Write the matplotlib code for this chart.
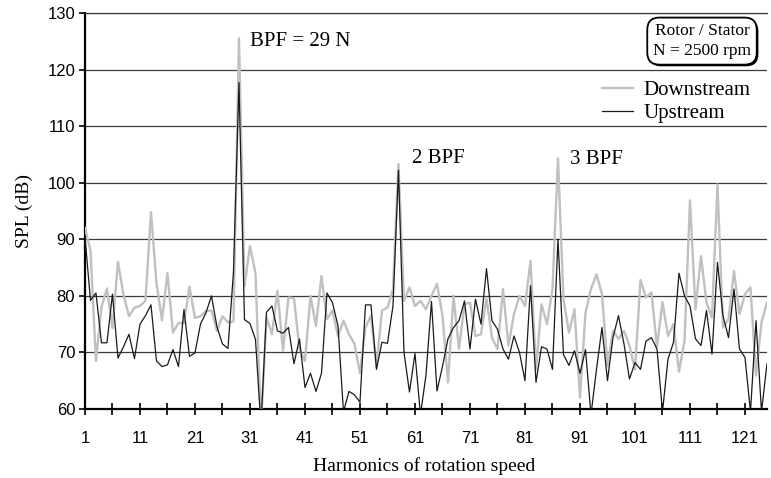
import matplotlib

matplotlib.use("Agg")
import matplotlib.patheffects as pe
import matplotlib.pyplot as plt
import numpy as np
from matplotlib.lines import Line2D
from matplotlib.ticker import FixedLocator

# harmonic numbers 1..125 (category axis)
harmonics = np.arange(1, 126)

downstream = [
    92.0, 88.0, 68.5, 78.0, 81.3, 74.3, 86.0, 80.2, 76.4, 77.9,
    78.2, 79.1, 94.8, 82.3, 75.7, 84.0, 73.5, 75.2, 75.2, 81.6,
    76.1, 76.4, 77.3, 77.4, 73.8, 76.4, 75.3, 75.5, 125.5, 81.7,
    88.8, 84.0, 57.0, 76.2, 73.2, 80.9, 70.3, 79.7, 79.6, 70.6,
    68.5, 80.0, 74.7, 83.5, 75.9, 77.4, 72.9, 75.6, 73.2, 71.5,
    66.3, 74.4, 76.5, 67.5, 77.4, 77.9, 81.2, 103.3, 79.1, 81.5,
    78.2, 79.1, 77.6, 80.0, 82.1, 76.5, 64.7, 80.0, 70.6, 78.5,
    78.8, 72.9, 73.2, 79.5, 72.6, 70.6, 81.2, 71.2, 76.8, 80.0,
    78.2, 86.2, 67.0, 78.5, 75.0, 81.2, 104.3, 79.4, 73.5, 77.6,
    62.0, 77.0, 81.2, 83.8, 80.3, 67.6, 73.8, 72.4, 73.8, 71.2,
    67.0, 82.8, 79.7, 80.6, 71.0, 78.9, 72.9, 75.0, 66.6, 72.0,
    96.9, 77.6, 87.0, 78.8, 76.2, 99.7, 74.4, 75.9, 84.4, 76.8,
    80.3, 81.5, 65.9, 75.3, 78.8,
]

upstream = [
    90.5, 79.2, 80.5, 71.7, 71.7, 80.3, 69.0, 71.0, 73.2, 68.9,
    75.0, 76.5, 78.4, 68.5, 67.5, 67.8, 70.5, 67.5, 77.6, 69.3,
    69.9, 75.0, 77.0, 80.0, 74.5, 71.5, 70.7, 84.2, 117.7, 75.8,
    75.1, 72.3, 57.0, 77.1, 78.2, 73.8, 73.4, 74.4, 68.0, 72.4,
    63.8, 66.3, 63.1, 66.3, 80.5, 78.8, 74.7, 59.5, 63.1, 62.5,
    61.2, 78.4, 78.4, 67.0, 71.8, 71.6, 78.2, 102.2, 70.0, 63.0,
    69.8, 59.0, 66.0, 79.0, 63.2, 67.5, 72.4, 74.4, 75.6, 79.1,
    70.6, 79.4, 75.0, 84.8, 75.6, 74.1, 70.6, 68.8, 72.9, 70.0,
    65.0, 81.8, 64.7, 71.0, 70.6, 67.0, 90.0, 69.6, 67.7, 70.3,
    66.3, 70.5, 59.0, 67.0, 74.4, 65.0, 72.6, 76.5, 71.5, 65.3,
    68.2, 67.0, 72.0, 72.6, 70.6, 59.5, 68.8, 71.8, 84.0, 80.0,
    78.2, 72.4, 71.2, 77.4, 69.7, 85.9, 76.5, 72.6, 81.2, 70.6,
    69.1, 59.5, 75.6, 59.5, 68.0,
]

x_labels = [1, 11, 21, 31, 41, 51, 61, 71, 81, 91, 101, 111, 121]
x_minor = [6, 16, 26, 36, 46, 56, 66, 76, 86, 96, 106, 116]
y_ticks = [60, 70, 80, 90, 100, 110, 120, 130]

SERIF = "Liberation Serif"
SANS = "Liberation Sans"

fig = plt.figure(figsize=(7.71, 4.78), dpi=100)
ax = fig.add_axes([0.1102, 0.1444, 0.8846, 0.8285])

ax.plot(harmonics, downstream, color="#c0c0c0", lw=1.7, zorder=3)
ax.plot(harmonics, upstream, color="#1a1a1a", lw=0.9, zorder=4)

ax.set_xlim(1, 125)
ax.set_ylim(60, 130)
ax.set_yticks(y_ticks)
ax.xaxis.set_major_locator(FixedLocator(x_labels))
ax.xaxis.set_minor_locator(FixedLocator(x_minor))
ax.set_xticklabels([str(v) for v in x_labels], fontfamily=SANS, fontsize=12)
ax.set_yticklabels([str(v) for v in y_ticks], fontfamily=SANS, fontsize=12)
ax.tick_params(axis="x", which="both", direction="inout", length=8, width=1.2, pad=12)
ax.tick_params(axis="y", direction="out", length=4, width=1.2, pad=3)

ax.grid(axis="y", color="#3a3a3a", lw=0.9, zorder=1)
for side in ("left", "bottom"):
    ax.spines[side].set_linewidth(1.6)
ax.spines["top"].set_linewidth(0.9)
ax.spines["top"].set_color("#3a3a3a")
ax.spines["right"].set_visible(False)

ax.text(31, 124.9, "BPF = 29 N", fontfamily=SERIF, fontsize=15, va="center")
ax.text(60.5, 104.3, "2 BPF", fontfamily=SERIF, fontsize=15, va="center")
ax.text(89.2, 104.1, "3 BPF", fontfamily=SERIF, fontsize=15, va="center")

box = fig.text(0.9105, 0.914, "Rotor / Stator\nN = 2500 rpm", fontfamily=SERIF,
               fontsize=12.5, ha="center", va="center", linespacing=1.3,
               bbox=dict(boxstyle="round,pad=0.33,rounding_size=0.7", fc="white",
                         ec="black", lw=1.3))
box.get_bbox_patch().set_path_effects(
    [pe.withSimplePatchShadow(offset=(1.2, -1.2), shadow_rgbFace="black", alpha=1.0)])

handles = [Line2D([], [], color="#c0c0c0", lw=1.7), Line2D([], [], color="#1a1a1a", lw=0.9)]
leg = ax.legend(handles, ["Downstream", "Upstream"], loc="upper left",
                bbox_to_anchor=(0.781, 0.8315), bbox_transform=fig.transFigure,
                frameon=False, borderpad=0, borderaxespad=0, labelspacing=0.15,
                handlelength=1.5, handletextpad=0.5, prop={"family": SERIF, "size": 15})

fig.text(0.5505, 0.025, "Harmonics of rotation speed", fontfamily=SERIF, fontsize=14,
         ha="center", va="center")
fig.text(0.031, 0.558, "SPL (dB)", fontfamily=SERIF, fontsize=14, rotation=90,
         ha="center", va="center")

fig.savefig("out.png", dpi=100)
